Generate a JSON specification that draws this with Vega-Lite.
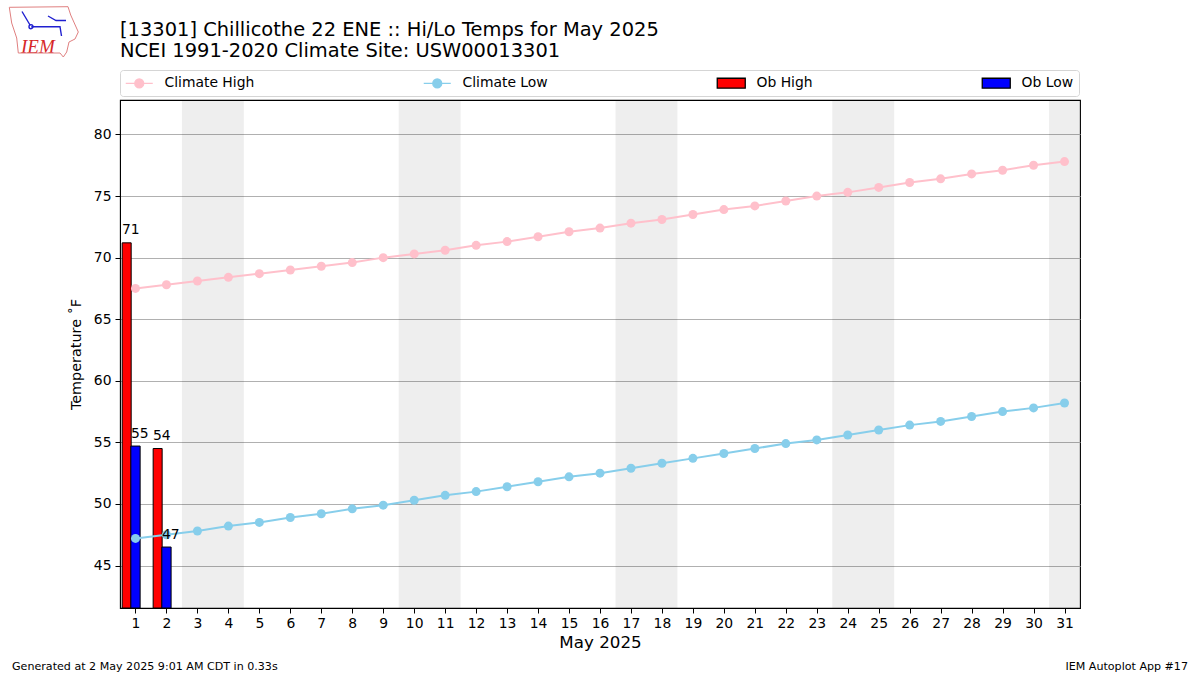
{
"$schema":"https://vega.github.io/schema/vega-lite/v6.json",
"width":960,"height":508,
"autosize":{"type":"none"},
"padding":{"left":120,"top":100,"right":120,"bottom":67},
"background":"white",
"config":{"font":"DejaVu Sans","view":{"stroke":"#000","strokeWidth":1.1}},
"title":{"text":["[13301] Chillicothe 22 ENE :: Hi/Lo Temps for May 2025","NCEI 1991-2020 Climate Site: USW00013301"],"anchor":"start","frame":"group","fontSize":19.45,"fontWeight":"normal","color":"#000","lineHeight":21,"offset":-57,"font":"DejaVu Sans"},
"datasets":{
"weekends":[{"start":2.5,"end":4.5},{"start":9.5,"end":11.5},{"start":16.5,"end":18.5},{"start":23.5,"end":25.5},{"start":30.5,"end":31.5}],
"obs":[{"day":1,"series":"Ob High","value":71.2,"label":"71"},{"day":1,"series":"Ob Low","value":54.7,"label":"55"},{"day":2,"series":"Ob High","value":54.5,"label":"54"},{"day":2,"series":"Ob Low","value":46.5,"label":"47"}],
"climate":[
{"day":1,"series":"Climate High","value":67.5},{"day":2,"series":"Climate High","value":67.8},{"day":3,"series":"Climate High","value":68.1},{"day":4,"series":"Climate High","value":68.4},{"day":5,"series":"Climate High","value":68.7},{"day":6,"series":"Climate High","value":69.0},{"day":7,"series":"Climate High","value":69.3},{"day":8,"series":"Climate High","value":69.6},{"day":9,"series":"Climate High","value":70.0},{"day":10,"series":"Climate High","value":70.3},{"day":11,"series":"Climate High","value":70.6},{"day":12,"series":"Climate High","value":71.0},{"day":13,"series":"Climate High","value":71.3},{"day":14,"series":"Climate High","value":71.7},{"day":15,"series":"Climate High","value":72.1},{"day":16,"series":"Climate High","value":72.4},{"day":17,"series":"Climate High","value":72.8},{"day":18,"series":"Climate High","value":73.1},{"day":19,"series":"Climate High","value":73.5},{"day":20,"series":"Climate High","value":73.9},{"day":21,"series":"Climate High","value":74.2},{"day":22,"series":"Climate High","value":74.6},{"day":23,"series":"Climate High","value":75.0},{"day":24,"series":"Climate High","value":75.3},{"day":25,"series":"Climate High","value":75.7},{"day":26,"series":"Climate High","value":76.1},{"day":27,"series":"Climate High","value":76.4},{"day":28,"series":"Climate High","value":76.8},{"day":29,"series":"Climate High","value":77.1},{"day":30,"series":"Climate High","value":77.5},{"day":31,"series":"Climate High","value":77.8},
{"day":1,"series":"Climate Low","value":47.2},{"day":2,"series":"Climate Low","value":47.5},{"day":3,"series":"Climate Low","value":47.8},{"day":4,"series":"Climate Low","value":48.2},{"day":5,"series":"Climate Low","value":48.5},{"day":6,"series":"Climate Low","value":48.9},{"day":7,"series":"Climate Low","value":49.2},{"day":8,"series":"Climate Low","value":49.6},{"day":9,"series":"Climate Low","value":49.9},{"day":10,"series":"Climate Low","value":50.3},{"day":11,"series":"Climate Low","value":50.7},{"day":12,"series":"Climate Low","value":51.0},{"day":13,"series":"Climate Low","value":51.4},{"day":14,"series":"Climate Low","value":51.8},{"day":15,"series":"Climate Low","value":52.2},{"day":16,"series":"Climate Low","value":52.5},{"day":17,"series":"Climate Low","value":52.9},{"day":18,"series":"Climate Low","value":53.3},{"day":19,"series":"Climate Low","value":53.7},{"day":20,"series":"Climate Low","value":54.1},{"day":21,"series":"Climate Low","value":54.5},{"day":22,"series":"Climate Low","value":54.9},{"day":23,"series":"Climate Low","value":55.2},{"day":24,"series":"Climate Low","value":55.6},{"day":25,"series":"Climate Low","value":56.0},{"day":26,"series":"Climate Low","value":56.4},{"day":27,"series":"Climate Low","value":56.7},{"day":28,"series":"Climate Low","value":57.1},{"day":29,"series":"Climate Low","value":57.5},{"day":30,"series":"Climate Low","value":57.8},{"day":31,"series":"Climate Low","value":58.2}
]},
"encoding":{
 "x":{"field":"day","type":"quantitative","scale":{"domain":[0.5,31.5],"nice":false,"zero":false,"padding":0},
   "axis":{"values":[1,2,3,4,5,6,7,8,9,10,11,12,13,14,15,16,17,18,19,20,21,22,23,24,25,26,27,28,29,30,31],"tickCount":31,"format":"d","grid":false,"title":"May 2025","titleFontSize":16.7,"titleFontWeight":"normal","titleColor":"#000","titlePadding":5,"labelFontSize":13.9,"labelColor":"#000","labelPadding":3,"tickColor":"#000","tickSize":5,"domainColor":"#000","labelOverlap":false,"labelFlush":false}},
 "y":{"field":"value","type":"quantitative","scale":{"domain":[41.55,82.8],"nice":false,"zero":false,"padding":0},
   "axis":{"values":[45,50,55,60,65,70,75,80],"grid":true,"gridColor":"#b0b0b0","gridWidth":1,"title":"Temperature ˚F","titleFontSize":14.4,"titleFontWeight":"normal","titleColor":"#000","titlePadding":10,"labelFontSize":13.9,"labelColor":"#000","labelPadding":4,"tickColor":"#000","tickSize":5,"domainColor":"#000"}}
},
"layer":[
{"data":{"values":[]},"mark":{"type":"point","filled":true,"opacity":1},
 "encoding":{
  "fill":{"field":"series","type":"nominal","scale":{"domain":["Climate High","Climate Low","Ob High","Ob Low"],"range":["pink","skyblue","#ff0000","#0000ff"]},"sort":null,
   "legend":{"title":null,"orient":"none","legendX":0,"legendY":-30,"direction":"horizontal","columns":4,"padding":5,"columnPadding":166,"symbolSize":196,"symbolOffset":6.25,"labelOffset":17.25,"labelFontSize":13.9,"labelColor":"#000","strokeColor":"#d5d5d5","cornerRadius":3,"fillColor":"#fff","symbolOpacity":1,"symbolStrokeWidth":1.3,"labelLimit":200}},
  "stroke":{"field":"series","type":"nominal","scale":{"domain":["Climate High","Climate Low","Ob High","Ob Low"],"range":["pink","skyblue","#000000","#000000"]},"sort":null,"legend":{"title":null}},
  "shape":{"field":"series","type":"nominal","scale":{"domain":["Climate High","Climate Low","Ob High","Ob Low"],"range":["M-1.93,0L1.93,0M0.64,0A0.64,0.64,0,1,1,-0.64,0A0.64,0.64,0,1,1,0.64,0Z","M-1.93,0L1.93,0M0.64,0A0.64,0.64,0,1,1,-0.64,0A0.64,0.64,0,1,1,0.64,0Z","M-2,-0.71L2,-0.71L2,0.71L-2,0.71Z","M-2,-0.71L2,-0.71L2,0.71L-2,0.71Z"]},"sort":null,"legend":{"title":null}}}},
{"data":{"name":"weekends"},"mark":{"type":"rect","fill":"#000","opacity":0.068},
 "encoding":{"x":{"field":"start","type":"quantitative"},"x2":{"field":"end"},"y":null}},
{"data":{"name":"obs"},"transform":[{"filter":"datum.series == 'Ob High'"}],"mark":{"type":"bar","width":9,"xOffset":-8.8,"strokeWidth":1},
 "encoding":{"y2":{"datum":41.55},"fill":{"field":"series","type":"nominal"},"stroke":{"field":"series","type":"nominal"}}},
{"data":{"name":"obs"},"transform":[{"filter":"datum.series == 'Ob Low'"}],"mark":{"type":"bar","width":9.3,"xOffset":0,"strokeWidth":1},
 "encoding":{"y2":{"datum":41.55},"fill":{"field":"series","type":"nominal"},"stroke":{"field":"series","type":"nominal"}}},
{"data":{"name":"climate"},"mark":{"type":"line","strokeWidth":2},
 "encoding":{"stroke":{"field":"series","type":"nominal"}}},
{"data":{"name":"climate"},"mark":{"type":"point","filled":true,"opacity":1,"size":81,"shape":"circle"},
 "encoding":{"fill":{"field":"series","type":"nominal"}}},
{"data":{"name":"obs"},"transform":[{"filter":"datum.series == 'Ob High'"}],"mark":{"type":"text","align":"left","baseline":"alphabetic","dy":-8.5,"xOffset":-13.5,"fontSize":13.9,"color":"#000"},
 "encoding":{"text":{"field":"label"}}},
{"data":{"name":"obs"},"transform":[{"filter":"datum.series == 'Ob Low'"}],"mark":{"type":"text","align":"left","baseline":"alphabetic","dy":-8.5,"xOffset":-4.5,"fontSize":13.9,"color":"#000"},
 "encoding":{"text":{"field":"label"}}},
{"data":{"values":[{"note":"Generated at 2 May 2025 9:01 AM CDT in 0.33s"}]},"mark":{"type":"text","align":"left","baseline":"middle","fontSize":11.1,"color":"#000","x":-108,"y":567},"encoding":{"x":null,"y":null,"text":{"field":"note"}}},
{"data":{"values":[{"note":"IEM Autoplot App #17"}]},"mark":{"type":"text","align":"right","baseline":"middle","fontSize":11.1,"color":"#000","x":1068,"y":567},"encoding":{"x":null,"y":null,"text":{"field":"note"}}},
{"data":{"values":[{"note":"IEM"}]},"mark":{"type":"text","align":"left","baseline":"alphabetic","font":"Liberation Serif","fontStyle":"italic","fontSize":19,"color":"#d62728","x":-99,"y":-47},"encoding":{"x":null,"y":null,"text":{"field":"note"}}},
{"data":{"values":[{"logo":"outline"}]},"mark":{"type":"point","filled":false,"opacity":1,"stroke":"#e08080","strokeWidth":1,"size":4,"x":-76,"y":-68,"shape":"M-34.7,-24.7L24,-25.3L26.7,-17L34.3,0L31,7L25,10L22.7,20L19.3,25L16,21L-25.7,21L-27.3,6L-32.3,-9Z"},"encoding":{"x":null,"y":null}},
{"data":{"values":[{"logo":"station"}]},"mark":{"type":"point","filled":false,"opacity":1,"stroke":"#2020d0","strokeWidth":1.4,"size":4,"x":-76,"y":-68,"shape":"M-12.7,-5.3L16,-5.3L17.5,4M4,-16L12,-11.5L22,-11.5M-22,-20.5L-14,-7M-15,-5.3A2,2,0,1,1,-11,-5.3A2,2,0,1,1,-15,-5.3Z"},"encoding":{"x":null,"y":null}}
]}
